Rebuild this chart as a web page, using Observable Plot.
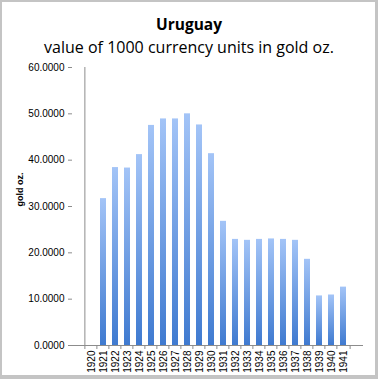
<!DOCTYPE html>
<html>
<head>
<meta charset="utf-8">
<script src="https://cdn.jsdelivr.net/npm/d3@7"></script>
<script src="https://cdn.jsdelivr.net/npm/@observablehq/plot@0.6"></script>
<style>
  html, body { margin: 0; padding: 0; background: #fff; }
  #wrap { position: relative; width: 378px; height: 379px; overflow: hidden; background: #fff; }
  #frame { position: absolute; left: 0; top: 0; width: 378px; height: 379px; box-sizing: border-box;
           border-style: solid; border-color: #c4c4c4; border-width: 2px 3px 4px 2px; pointer-events: none; }
  #head { position: absolute; left: 0; top: 0; width: 378px; height: 60px; text-align: center;
          font-family: "Open Sans", "Liberation Sans", sans-serif; color: #000; }
  #title { position: absolute; left: 0; width: 100%; top: 14px; font-size: 15.5px; font-weight: bold; line-height: 20px; }
  #subtitle { position: absolute; left: 0; width: 100%; top: 36px; font-size: 16px; line-height: 22px; }
  #chart { position: absolute; left: 0; top: 60px; }
</style>
</head>
<body>
<div id="wrap">
  <div id="head">
    <div id="title">Uruguay</div>
    <div id="subtitle">value of 1000 currency units in gold oz.</div>
  </div>
  <div id="chart"></div>
  <div id="frame"></div>
</div>
<script>
const years = ["1920","1921","1922","1923","1924","1925","1926","1927","1928","1929","1930",
               "1931","1932","1933","1934","1935","1936","1937","1938","1939","1940","1941"];
const values = [0, 31.7, 38.4, 38.3, 41.2, 47.5, 48.9, 48.9, 50.0, 47.6, 41.4,
                26.8, 22.9, 22.7, 22.9, 23.0, 22.9, 22.7, 18.6, 10.7, 10.9, 12.6];
const yTicks = [0, 10, 20, 30, 40, 50, 60];
const yLabel = "gold oz.";

const data = years.map((y, i) => ({year: y, value: values[i]}));

const W = 378, H = 319, mL = 72, mR = 15, mT = 7, mB = 34;
const step = (W - mL - mR) / years.length;

const plot = Plot.plot({
  width: W, height: H,
  marginLeft: mL, marginRight: mR, marginTop: mT, marginBottom: mB,
  style: {fontFamily: "'Liberation Sans', Arial, sans-serif", fontSize: "10px", color: "#000", background: "transparent"},
  x: {domain: years, padding: 0.47, label: null},
  y: {domain: [0, 60], label: null},
  marks: [
    Plot.barY(data.filter(d => d.value > 0), {x: "year", y: "value", fill: "url(#barGrad)"}),
    // y axis line at left band boundary
    Plot.ruleX([years[0]], {dx: -step / 2, stroke: "#8c8c8c", strokeWidth: 1}),
    Plot.axisY({ticks: yTicks, tickFormat: d => d.toFixed(4), tickSize: 4, tickPadding: 4, stroke: "#8c8c8c", fill: "#000", label: null}),
    // x baseline
    Plot.ruleY([0], {stroke: "#8c8c8c", strokeWidth: 1}),
    // x ticks at band boundaries
    Plot.axisX({ticks: years, tickFormat: () => "", tickSize: 4, dx: -step / 2, stroke: "#8c8c8c", label: null}),
    Plot.axisX({ticks: [years[years.length - 1]], tickFormat: () => "", tickSize: 4, dx: step / 2, stroke: "#8c8c8c", label: null}),
    // x labels
    Plot.axisX({ticks: years, tickSize: 0, tickPadding: 5, tickRotate: -90, fill: "#000", label: null}),
    Plot.text([yLabel], {frameAnchor: "left", rotate: -90, dx: -52, fontWeight: "bold", fontSize: 9, fill: "#000"})
  ]
});

const svg = d3.select(plot);
const defs = svg.insert("defs", ":first-child");
const g = defs.append("linearGradient").attr("id", "barGrad").attr("x1", 0).attr("y1", 0).attr("x2", 0).attr("y2", 1);
g.append("stop").attr("offset", "0%").attr("stop-color", "#a3c4f7");
g.append("stop").attr("offset", "100%").attr("stop-color", "#3f7ad0");

document.getElementById("chart").appendChild(plot);
</script>
</body>
</html>
